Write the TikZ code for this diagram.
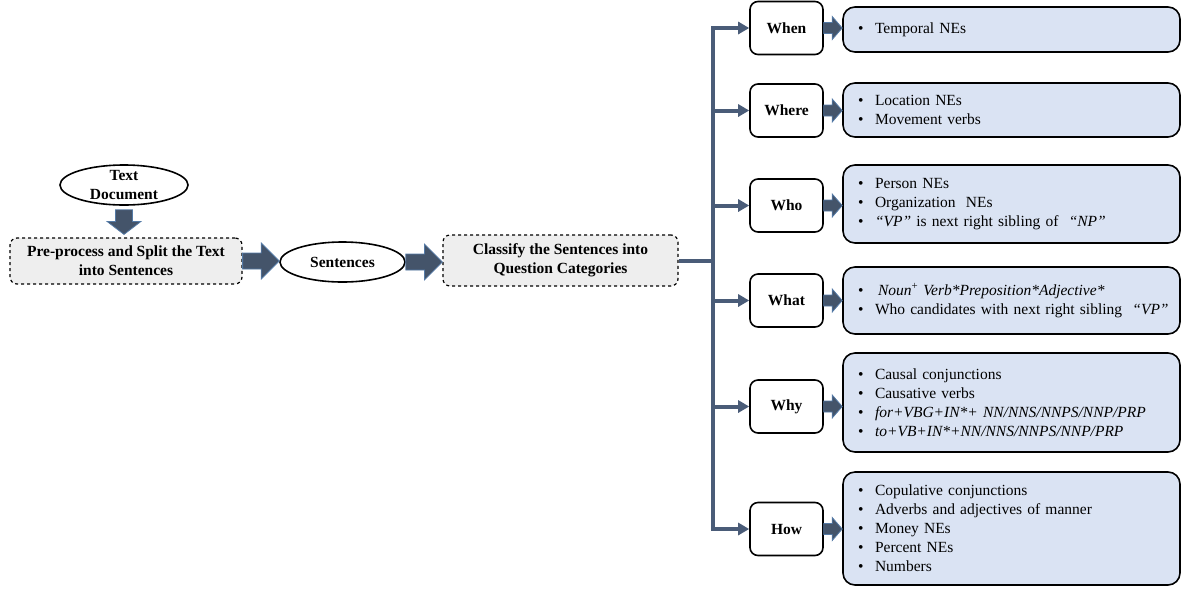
\documentclass[tikz,border=0pt]{standalone}
\usepackage{fontspec}
\setmainfont{Liberation Serif}
\usetikzlibrary{shapes.geometric,arrows.meta,calc}
\definecolor{arrfill}{RGB}{68,84,106}
\definecolor{arrdraw}{RGB}{84,122,166}
\definecolor{linec}{RGB}{74,92,120}
\definecolor{grayfill}{RGB}{238,238,238}
\definecolor{bluefill}{RGB}{218,227,243}
\newcommand\bitem[1]{\mbox{\makebox[17pt][l]{\textbullet}#1}}
\tikzset{
  basefont/.style={font=\fontsize{15.5}{19}\selectfont},
  boldfont/.style={font=\fontsize{15.5}{19}\selectfont\bfseries},
  ellnode/.style={ellipse,draw,line width=1.6pt,inner sep=0pt,fill=white},
  ltext/.style={boldfont,align=center,inner sep=0pt},
  procbox/.style={rectangle,rounded corners=7pt,draw,dashed,line width=1.2pt,fill=grayfill,boldfont,align=center,inner sep=0pt},
  catbox/.style={rectangle,rounded corners=8pt,draw,line width=1.6pt,minimum width=73pt,minimum height=53pt,boldfont,fill=white,inner sep=0pt},
  detbox/.style={rectangle,rounded corners=12pt,draw,line width=1.6pt,fill=bluefill,minimum width=337pt,text width=307pt,inner xsep=15pt,inner ysep=0pt,align=left,basefont},
  conn/.style={draw=linec,line width=4pt},
  conntip/.style={conn,-{Triangle[length=11pt,width=12pt]}},
  bigh/.style={fill=arrfill,draw=arrdraw,line width=0.8pt,
    to path={let \p1=(\tikztostart),\p2=(\tikztotarget) in
      (\x1,\y1+8pt) -- (\x2-18pt,\y1+8pt) -- (\x2-18pt,\y1+18pt) -- (\x2,\y1)
      -- (\x2-18pt,\y1-18pt) -- (\x2-18pt,\y1-8pt) -- (\x1,\y1-8pt) -- cycle}},
  smallh/.style={fill=arrfill,draw=arrdraw,line width=0.8pt,
    to path={let \p1=(\tikztostart),\p2=(\tikztotarget) in
      (\x1,\y1+5.5pt) -- (\x2-10pt,\y1+5.5pt) -- (\x2-10pt,\y1+11.5pt) -- (\x2,\y1)
      -- (\x2-10pt,\y1-11.5pt) -- (\x2-10pt,\y1-5.5pt) -- (\x1,\y1-5.5pt) -- cycle}},
  bigv/.style={fill=arrfill,draw=arrdraw,line width=0.8pt,
    to path={let \p1=(\tikztostart),\p2=(\tikztotarget) in
      (\x1-8.5pt,\y1-4pt) -- (\x1-8.5pt,\y2+16pt) -- (\x1-17pt,\y2+16pt) -- (\x1,\y2+3pt)
      -- (\x1+17pt,\y2+16pt) -- (\x1+8.5pt,\y2+16pt) -- (\x1+8.5pt,\y1-4pt) -- cycle}},
}
\begin{document}
\begin{tikzpicture}[x=1pt,y=-1pt]
\useasboundingbox (0,0) rectangle (1182,590);

% left flow
\node[ellnode,minimum width=128pt,minimum height=40pt] (td) at (124,185) {};
\node[ltext] (tdt) at (td) {Text\\Document};
\node[procbox,minimum width=232pt,minimum height=46pt] (pre) at (126,261) {Pre-process and Split the Text\\into Sentences};
\node[ellnode,minimum width=125pt,minimum height=40pt,boldfont] (sent) at (342.5,262) {Sentences};
\node[procbox,minimum width=235pt,minimum height=51pt] (cls) at (560.5,260.5) {Classify the Sentences into\\Question Categories};

\draw[bigv] (td.south) to (pre.north);
\draw[bigh] (pre.east) to (sent.west);
\draw[bigh] (sent.east) to (cls.west);

% category boxes
\node[catbox] (when)  at (786.5,28)    {When};
\node[catbox] (where) at (786.5,110.5) {Where};
\node[catbox] (who)   at (786.5,205.5) {Who};
\node[catbox] (what)  at (786.5,300.5) {What};
\node[catbox] (why)   at (786.5,406.5) {Why};
\node[catbox] (how)   at (786.5,529)   {How};

% detail boxes
\node[detbox,minimum height=45pt] (dwhen) at (1011.5,29.5) {\bitem{Temporal NEs}};
\node[detbox,minimum height=54pt] (dwhere) at (1011.5,110) {\bitem{Location NEs}\\\bitem{Movement verbs}};
\node[detbox,minimum height=78pt] (dwho) at (1011.5,204) {\bitem{Person NEs}\\\bitem{Organization\ \ NEs}\\\bitem{\textit{“VP”} is next right sibling of\ \ \textit{“NP”}}};
\node[detbox,minimum height=67pt] (dwhat) at (1011.5,300.5) {\bitem{\hspace{3pt}\textit{Noun}\textsuperscript{+} \textit{Verb*Preposition*Adjective*}}\\\bitem{Who candidates with next right sibling\ \ \textit{“VP”}}};
\node[detbox,minimum height=99pt] (dwhy) at (1011.5,402.5) {\bitem{Causal conjunctions}\\\bitem{Causative verbs}\\\bitem{\textit{for+VBG+IN*+ NN/NNS/NNPS/NNP/PRP}}\\\bitem{\textit{to+VB+IN*+NN/NNS/NNPS/NNP/PRP}}};
\node[detbox,minimum height=113pt] (dhow) at (1011.5,528.5) {\bitem{Copulative conjunctions}\\\bitem{Adverbs and adjectives of manner}\\\bitem{Money NEs}\\\bitem{Percent NEs}\\\bitem{Numbers}};

% connectors
\coordinate (bus) at (713,260.5);
\draw[conn] (cls.east) -- (bus);
\draw[conntip] (bus) |- (when.west);
\draw[conntip] (bus) |- (how.west);
\draw[conntip] (bus |- where.west) -- (where.west);
\draw[conntip] (bus |- who.west) -- (who.west);
\draw[conntip] (bus |- what.west) -- (what.west);
\draw[conntip] (bus |- why.west) -- (why.west);

\draw[smallh] (when.east) to (dwhen.west);
\draw[smallh] (where.east) to (dwhere.west);
\draw[smallh] (who.east) to (dwho.west);
\draw[smallh] (what.east) to (dwhat.west);
\draw[smallh] (why.east) to (dwhy.west);
\draw[smallh] (how.east) to (dhow.west);
\end{tikzpicture}
\end{document}
